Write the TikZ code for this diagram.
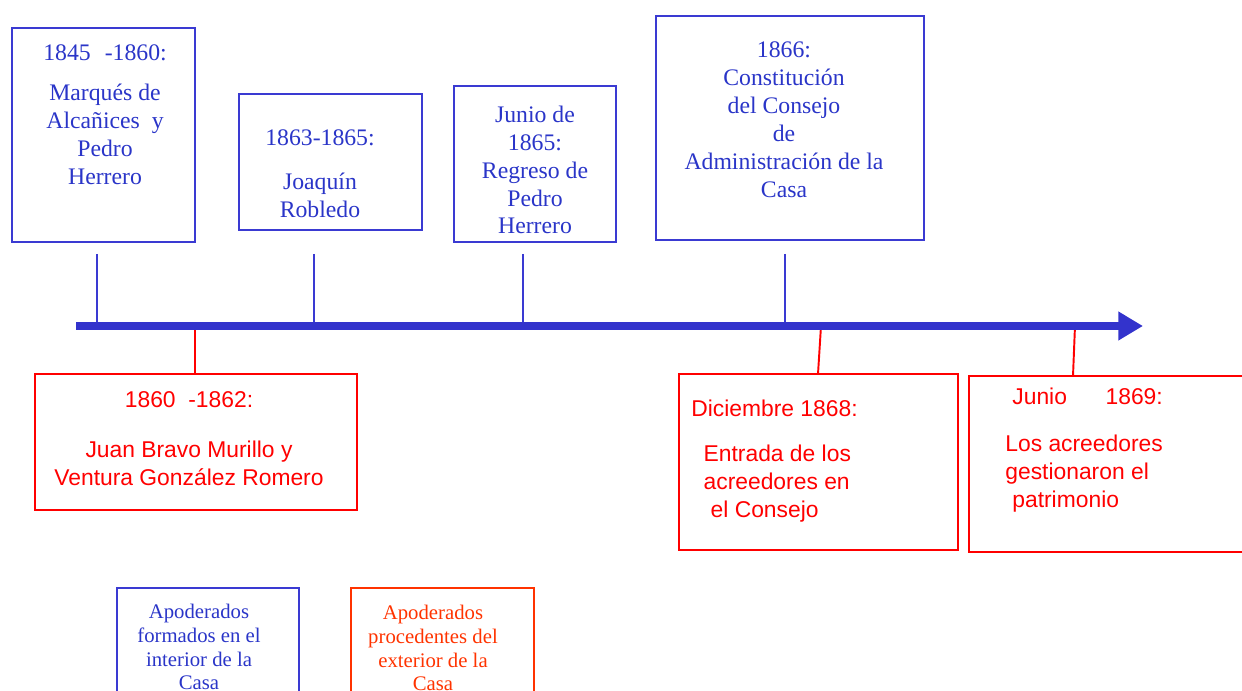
\documentclass[tikz,border=0pt]{standalone}
\usepackage{fontspec}
\setmainfont{Liberation Serif}
\newfontfamily\arialfont{Liberation Sans}
\usetikzlibrary{arrows.meta}

\definecolor{tlBlue}{HTML}{3333CC}
\definecolor{tlBoxBlue}{HTML}{3A3AD2}
\definecolor{tlTextBlue}{HTML}{2A35C8}
\definecolor{tlRed}{HTML}{FF0000}
\definecolor{tlOrange}{HTML}{FF3300}

\tikzset{
    BOX/.style={shape=rectangle, inner sep=0mm, line width=1.1pt},
    BLUE_BOX/.style={BOX, draw=tlBoxBlue},
    RED_BOX/.style={BOX, draw=tlRed},
    ORANGE_BOX/.style={BOX, draw=tlOrange},
    BLUE_TEXT/.style={inner sep=0mm, align=center, text=tlTextBlue,
        font={\fontsize{13.5}{15.9}\selectfont}},
    RED_TEXT/.style={inner sep=0mm, align=center, text=tlRed,
        font={\arialfont\fontsize{13}{15.9}\selectfont}},
    SMALL_TEXT/.style={inner sep=0mm, align=center,
        font={\fontsize{11.8}{13.6}\selectfont}},
    AXIS/.style={draw=tlBlue, line width=4pt,
        -{Triangle[length=14pt, width=15.5pt]}},
    BLUE_EDGE/.style={draw=tlBoxBlue, line width=1.1pt},
    RED_EDGE/.style={draw=tlRed, line width=1.1pt}
}

\begin{document}
\begin{tikzpicture}
    \useasboundingbox (0,0) rectangle (24.84,13.82);
    \clip (0,0) rectangle (24.84,13.82);

    % boxes above the line
    \node [BLUE_BOX, minimum width=3.66cm, minimum height=4.28cm] (1) at (2.07, 11.12) {};
    \node [BLUE_BOX, minimum width=3.66cm, minimum height=2.72cm] (2) at (6.61, 10.58) {};
    \node [BLUE_BOX, minimum width=3.24cm, minimum height=3.12cm] (3) at (10.70, 10.54) {};
    \node [BLUE_BOX, minimum width=5.36cm, minimum height=4.48cm] (4) at (15.80, 11.26) {};
    % boxes below the line
    \node [RED_BOX, minimum width=6.44cm, minimum height=2.72cm] (5) at (3.92, 4.98) {};
    \node [RED_BOX, minimum width=5.58cm, minimum height=3.52cm] (6) at (16.37, 4.58) {};
    \node [RED_BOX, minimum width=5.82cm, minimum height=3.52cm] (7) at (22.29, 4.54) {};
    \node [BLUE_BOX, minimum width=3.64cm, minimum height=2.64cm] (8) at (4.16, 0.74) {};
    \node [ORANGE_BOX, minimum width=3.66cm, minimum height=2.64cm] (9) at (8.85, 0.74) {};

    % texts
    \node [BLUE_TEXT] (10) at (2.10, 11.52) {1845\hspace{8pt}-1860:\\[6.8pt]
        Marqués de\\Alcañices\ \ y\\Pedro\\Herrero};
    \node [BLUE_TEXT] (11) at (6.40, 10.34) {1863-1865:\\[9pt]Joaquín\\Robledo};
    \node [BLUE_TEXT] (12) at (10.70, 10.42) {Junio de\\1865:\\Regreso de\\Pedro\\Herrero};
    \node [BLUE_TEXT] (13) at (15.68, 11.42) {1866:\\Constitución\\del Consejo\\de\\
        Administración de la\\Casa};
    \node [RED_TEXT] (14) at (3.78, 5.04) {1860\ \ -1862:\\[12.5pt]
        Juan Bravo Murillo y\\Ventura González Romero};
    \node [RED_TEXT, align=left, anchor=west] (15) at (13.82, 4.60) {Diciembre 1868:\\[10pt]
        \hspace*{7pt}Entrada de los\\\hspace*{7pt}acreedores en\\\hspace*{11pt}el Consejo};
    \node [RED_TEXT, align=left, anchor=west] (16) at (20.10, 4.82) {\hspace*{4pt}Junio\hspace{22pt}1869:\\[11.3pt]
        Los acreedores\\gestionaron el\\\hspace*{4pt}patrimonio};
    \node [SMALL_TEXT, text=tlTextBlue] (17) at (3.98, 0.88) {Apoderados\\formados en el\\
        interior de la\\Casa};
    \node [SMALL_TEXT, text=tlOrange] (18) at (8.66, 0.86) {Apoderados\\procedentes del\\
        exterior de la\\Casa};

    % time line
    \coordinate (a0) at (1.52, 7.30);
    \coordinate (a1) at (22.86, 7.30);
    \coordinate (t1) at (1.94, 8.74);
    \coordinate (t2) at (6.28, 8.74);
    \coordinate (t3) at (10.46, 8.74);
    \coordinate (t4) at (15.70, 8.74);
    \coordinate (u1) at (3.90, 7.30);
    \coordinate (u2) at (16.42, 7.30);
    \coordinate (u3) at (21.50, 7.30);
    \coordinate (v2) at (16.36, 6.34);
    \coordinate (v3) at (21.46, 6.30);

    \draw[BLUE_EDGE] (t1) to (t1 |- a0);
    \draw[BLUE_EDGE] (t2) to (t2 |- a0);
    \draw[BLUE_EDGE] (t3) to (t3 |- a0);
    \draw[BLUE_EDGE] (t4) to (t4 |- a0);
    \draw[RED_EDGE] (u1) to (5.north -| u1);
    \draw[RED_EDGE] (u2) to (v2);
    \draw[RED_EDGE] (u3) to (v3);
    \draw[AXIS] (a0) to (a1);
\end{tikzpicture}
\end{document}
